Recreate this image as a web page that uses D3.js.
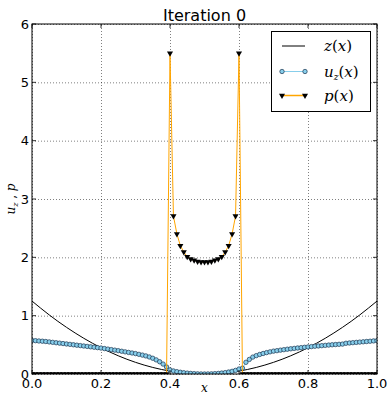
<html>
<head>
  <script src="https://d3js.org/d3.v7.min.js"></script>
  <style>
    body { margin: 0; background: #fff; }
    svg text { font-family: "DejaVu Sans", sans-serif; }
    .math { font-family: "DejaVu Serif", serif; font-style: italic; }
  </style>
</head>
<body>
<svg id="chart" width="389" height="396"></svg>
<script>
// values, x = 0, 0.01, ... 1.0 for u and p
const uz = [
  0.575,0.571,0.566,0.562,0.557,0.550,0.543,0.536,0.529,0.522,
  0.515,0.508,0.501,0.494,0.487,0.480,0.473,0.466,0.459,0.452,
  0.445,0.436,0.427,0.418,0.409,0.400,0.390,0.380,0.370,0.360,
  0.350,0.337,0.324,0.310,0.292,0.270,0.242,0.210,0.170,0.120,
  0.070,0.052,0.040,0.030,0.022,0.015,0.010,0.006,0.003,0.001,
  0.000,
  0.001,0.003,0.006,0.010,0.016,0.024,0.034,0.046,0.062,0.085,
  0.100,0.200,0.250,0.290,0.315,0.335,0.352,0.367,0.380,0.392,
  0.400,0.409,0.417,0.425,0.432,0.439,0.446,0.452,0.458,0.464,
  0.470,0.476,0.481,0.486,0.491,0.496,0.501,0.505,0.509,0.513,
  0.527,0.532,0.537,0.542,0.547,0.552,0.557,0.562,0.567,0.572,0.577
];
const pres = [
  0,0,0,0,0,0,0,0,0,0, 0,0,0,0,0,0,0,0,0,0,
  0,0,0,0,0,0,0,0,0,0, 0,0,0,0,0,0,0,0,0,0,
  5.5,2.71,2.40,2.20,2.09,2.01,1.97,1.95,1.93,1.92,
  1.92,
  1.92,1.93,1.95,1.97,2.01,2.09,2.20,2.40,2.71,5.5,
  0,0,0,0,0,0,0,0,0,0, 0,0,0,0,0,0,0,0,0,0,
  0,0,0,0,0,0,0,0,0,0, 0,0,0,0,0,0,0,0,0,0
];
// z(x) sampled every 0.05
const zVals = [1.25,1.0125,0.8,0.6125,0.45,0.3125,0.2,0.1125,0.05,0.0125,0,
               0.0125,0.05,0.1125,0.2,0.3125,0.45,0.6125,0.8,1.0125,1.25];
const xTicks = [0, 0.2, 0.4, 0.6, 0.8, 1.0];
const yTicks = [0, 1, 2, 3, 4, 5, 6];

const svg = d3.select("#chart");
const margin = {top: 24, right: 12, bottom: 22, left: 32};
const W = 389, H = 396;
const x = d3.scaleLinear().domain([0, 1]).range([margin.left, W - margin.right]);
const y = d3.scaleLinear().domain([0, 6]).range([H - margin.bottom, margin.top]);

svg.append("clipPath").attr("id", "clip").append("rect")
  .attr("x", margin.left).attr("y", margin.top)
  .attr("width", W - margin.left - margin.right)
  .attr("height", H - margin.top - margin.bottom);

// gridlines
svg.append("g").attr("transform", `translate(0,${H - margin.bottom})`)
  .call(d3.axisBottom(x).tickValues(xTicks).tickSize(-(H - margin.top - margin.bottom)).tickFormat(""))
  .call(g => g.select(".domain").remove())
  .call(g => g.selectAll("line").attr("stroke", "#000").attr("stroke-width", 0.5).attr("stroke-dasharray", "1,2"));
svg.append("g").attr("transform", `translate(${margin.left},0)`)
  .call(d3.axisLeft(y).tickValues(yTicks).tickSize(-(W - margin.left - margin.right)).tickFormat(""))
  .call(g => g.select(".domain").remove())
  .call(g => g.selectAll("line").attr("stroke", "#000").attr("stroke-width", 0.5).attr("stroke-dasharray", "1,2"));

const plot = svg.append("g").attr("clip-path", "url(#clip)");
const idx = d3.range(uz.length);

// z(x)
plot.append("path")
  .datum(zVals)
  .attr("fill", "none").attr("stroke", "#000").attr("stroke-width", 1)
  .attr("d", d3.line().x((d, i) => x(i * 0.05)).y(d => y(d)).curve(d3.curveNatural));

// u_z(x)
plot.append("path")
  .datum(idx)
  .attr("fill", "none").attr("stroke", "#87ceeb").attr("stroke-width", 1)
  .attr("d", d3.line().x(i => x(i / 100)).y(i => y(uz[i])));
plot.selectAll(".um").data(idx).join("circle")
  .attr("cx", i => x(i / 100)).attr("cy", i => y(uz[i])).attr("r", 2.2)
  .attr("fill", "#87ceeb").attr("stroke", "#1a3550").attr("stroke-width", 0.7);

// p(x)
const tri = d3.symbol().type(d3.symbolTriangle).size(16);
plot.append("path")
  .datum(idx)
  .attr("fill", "none").attr("stroke", "#ffa500").attr("stroke-width", 1)
  .attr("d", d3.line().x(i => x(i / 100)).y(i => y(pres[i])));
plot.selectAll(".pm").data(idx).join("path")
  .attr("d", tri)
  .attr("transform", i => `translate(${x(i / 100)},${y(pres[i])}) rotate(180)`)
  .attr("fill", "#000");

// frame
svg.append("rect")
  .attr("x", margin.left).attr("y", margin.top)
  .attr("width", W - margin.left - margin.right)
  .attr("height", H - margin.top - margin.bottom)
  .attr("fill", "none").attr("stroke", "#000").attr("stroke-width", 1);

// inward ticks on all four sides
const tk = svg.append("g").attr("stroke", "#000").attr("stroke-width", 0.8);
xTicks.forEach(t => {
  tk.append("line").attr("x1", x(t)).attr("x2", x(t)).attr("y1", y(0)).attr("y2", y(0) - 4);
  tk.append("line").attr("x1", x(t)).attr("x2", x(t)).attr("y1", y(6)).attr("y2", y(6) + 4);
});
yTicks.forEach(t => {
  tk.append("line").attr("x1", x(0)).attr("x2", x(0) + 4).attr("y1", y(t)).attr("y2", y(t));
  tk.append("line").attr("x1", x(1)).attr("x2", x(1) - 4).attr("y1", y(t)).attr("y2", y(t));
});

// tick labels
svg.append("g").selectAll("text").data(xTicks).join("text")
  .attr("x", d => x(d)).attr("y", y(0) + 14)
  .attr("text-anchor", "middle").attr("font-size", 13)
  .text(d => d3.format(".1f")(d));
svg.append("g").selectAll("text").data(yTicks).join("text")
  .attr("x", x(0) - 3).attr("y", d => y(d) + 4.5)
  .attr("text-anchor", "end").attr("font-size", 13)
  .text(d => d);

// title and axis labels
svg.append("text").attr("x", (x(0) + x(1)) / 2).attr("y", 20.5)
  .attr("text-anchor", "middle").attr("font-size", 16).text("Iteration 0");
svg.append("text").attr("class", "math").attr("x", (x(0) + x(1)) / 2).attr("y", 392)
  .attr("text-anchor", "middle").attr("font-size", 12).text("x");
const yl = svg.append("text").attr("class", "math")
  .attr("transform", `translate(15,${(y(0) + y(6)) / 2}) rotate(-90)`)
  .attr("text-anchor", "middle").attr("font-size", 12);
yl.append("tspan").text("u");
yl.append("tspan").attr("font-size", 8).attr("dy", 3).text("z");
yl.append("tspan").attr("dy", -3).attr("font-style", "normal").text(" , ");
yl.append("tspan").text("p");

// legend
const leg = svg.append("g");
leg.append("rect").attr("x", 271.5).attr("y", 31.5).attr("width", 99).attr("height", 80)
  .attr("fill", "#fff").attr("stroke", "#000").attr("stroke-width", 1);
const rows = [46, 71.5, 95.5];
leg.append("line").attr("x1", 282).attr("x2", 305).attr("y1", rows[0]).attr("y2", rows[0])
  .attr("stroke", "#000").attr("stroke-width", 1);
leg.append("line").attr("x1", 282).attr("x2", 305).attr("y1", rows[1]).attr("y2", rows[1])
  .attr("stroke", "#87ceeb").attr("stroke-width", 1);
[282, 305].forEach(px => leg.append("circle").attr("cx", px).attr("cy", rows[1]).attr("r", 2.2)
  .attr("fill", "#87ceeb").attr("stroke", "#1a3550").attr("stroke-width", 0.7));
leg.append("line").attr("x1", 282).attr("x2", 305).attr("y1", rows[2]).attr("y2", rows[2])
  .attr("stroke", "#ffa500").attr("stroke-width", 1.5);
[282, 305].forEach(px => leg.append("path").attr("d", tri)
  .attr("transform", `translate(${px},${rows[2]}) rotate(180)`).attr("fill", "#000"));

function mathLabel(yy, base, sub) {
  const t = leg.append("text").attr("class", "math").attr("x", 324).attr("y", yy + 5).attr("font-size", 15);
  t.append("tspan").text(base);
  if (sub) t.append("tspan").attr("font-size", 9).attr("dy", 3).text(sub);
  t.append("tspan").attr("font-style", "normal").attr("dy", sub ? -3 : 0).text("(");
  t.append("tspan").text("x");
  t.append("tspan").attr("font-style", "normal").text(")");
}
mathLabel(rows[0], "z");
mathLabel(rows[1], "u", "z");
mathLabel(rows[2], "p");
</script>
</body>
</html>
